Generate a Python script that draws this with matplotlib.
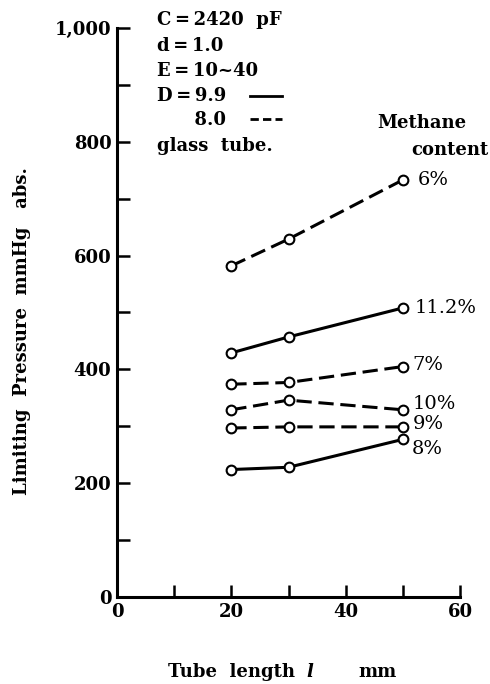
import numpy as np
import matplotlib
matplotlib.use("Agg")
import matplotlib.pyplot as plt

# tube length (mm)
tube_length = [20, 30, 50]

# limiting pressure, mmHg abs.
p_6 = [582, 629, 733]
p_11_2 = [429, 457, 508]
p_7 = [374, 377, 405]
p_10 = [329, 346, 329]
p_9 = [297, 299, 299]
p_8 = [224, 228, 277]

series_labels = ["6%", "11.2%", "7%", "10%", "9%", "8%"]
series_values = [p_6, p_11_2, p_7, p_10, p_9, p_8]
series_dashed = [True, False, True, True, True, False]

info_lines = ["C\u2009=\u20092420  pF", "d\u2009=\u20091.0", "E\u2009=\u200910~40",
              "D\u2009=\u20099.9", "      8.0", "glass  tube."]

W, H = 490, 684
plt.rcParams['font.family'] = ['DejaVu Serif']
fig = plt.figure(figsize=(W / 100, H / 100), dpi=100)
ax = fig.add_axes([117 / W, 1 - 597 / H, (460 - 117) / W, (597 - 28) / H])

def px(x, y):
    return x / W, 1 - y / H

for vals, dashed in zip(series_values, series_dashed):
    ax.plot(tube_length, vals, color='black', lw=2.2,
            linestyle=(0, (5, 2.2)) if dashed else '-',
            marker='o', ms=7, mfc='white', mec='black', mew=1.5, zorder=3)

ax.set_xlim(0, 60)
ax.set_ylim(0, 1000)
for s in ['top', 'right']:
    ax.spines[s].set_visible(False)
for s in ['left', 'bottom']:
    ax.spines[s].set_linewidth(2.2)

ax.set_yticks([0, 200, 400, 600, 800, 1000])
ax.set_yticklabels(['0', '200', '400', '600', '800', '1,000'])
ax.set_yticks([100, 300, 500, 700, 900], minor=True)
ax.set_xticks([0, 20, 40, 60])
ax.set_xticks([10, 30, 50], minor=True)
ax.tick_params(which='both', direction='in', length=9, width=1.8, labelsize=13, pad=4)
for lab in ax.get_xticklabels() + ax.get_yticklabels():
    lab.set_fontweight('bold')

fs = 13
# info block
ys = [20, 46, 71, 96, 120, 146]
for t, y in zip(info_lines, ys):
    fig.text(*px(157, y), t, fontsize=fs, fontweight='bold', va='center', ha='left')
# legend strokes
fig.lines.append(plt.Line2D([250 / W, 282 / W], [1 - 96 / H] * 2, transform=fig.transFigure,
                            color='black', lw=2))
fig.lines.append(plt.Line2D([250 / W, 282 / W], [1 - 119 / H] * 2, transform=fig.transFigure,
                            color='black', lw=2, linestyle=(0, (3, 1.5))))

fig.text(*px(422, 123), "Methane", fontsize=fs, fontweight='bold', va='center', ha='center')
fig.text(*px(450, 150), "content", fontsize=fs, fontweight='bold', va='center', ha='center')

label_pos = [(418, 180), (415, 308), (412, 365), (413, 404), (413, 424), (412, 449)]
for lab, (x, y) in zip(series_labels, label_pos):
    fig.text(*px(x, y), lab, fontsize=14, va='center', ha='left')

fig.text(*px(22, 331), "Limiting  Pressure  mmHg   abs.", fontsize=fs, fontweight='bold',
         rotation=90, va='center', ha='center')
fig.text(*px(168, 672), "Tube  length", fontsize=fs, fontweight='bold', va='center', ha='left')
fig.text(*px(306, 672), "l", fontsize=fs, fontweight='bold', style='italic', va='center', ha='left')
fig.text(*px(358, 672), "mm", fontsize=fs, fontweight='bold', va='center', ha='left')

fig.savefig("out.png", dpi=100, facecolor='white')
